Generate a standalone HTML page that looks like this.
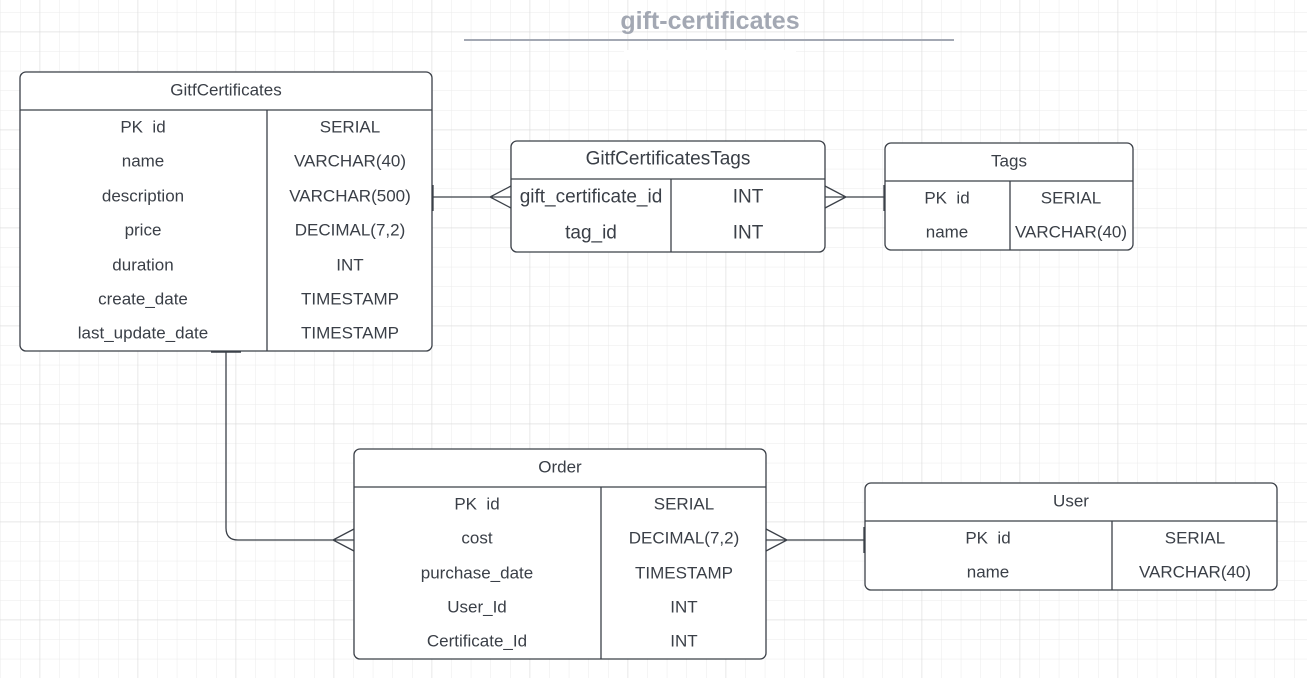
<!DOCTYPE html>
<html><head><meta charset="utf-8"><style>
html,body{margin:0;padding:0;width:1307px;height:678px;overflow:hidden;background:#fff}
svg{display:block}
text{font-family:"Liberation Sans",sans-serif;fill:#3a3f47;font-size:17px;text-anchor:middle;dominant-baseline:central}
</style></head><body>
<svg width="1307" height="678" xmlns="http://www.w3.org/2000/svg">
<defs>
<pattern id="g" x="0.4" y="12" width="19.6" height="19.6" patternUnits="userSpaceOnUse">
<path d="M0 0H19.6M0 0V19.6" stroke="#ebebeb" stroke-width="1" fill="none"/>
</pattern>
<pattern id="G" x="39.6" y="31.6" width="98" height="98" patternUnits="userSpaceOnUse">
<path d="M0 0H98M0 0V98" stroke="#dcdcdc" stroke-width="1.2" fill="none"/>
</pattern>
</defs>
<rect width="1307" height="678" fill="url(#g)"/>
<rect width="1307" height="678" fill="url(#G)"/>
<rect x="624" y="50" width="172" height="10" fill="#fff"/>
<text x="710" y="21" style="font-size:25px;font-weight:bold;fill:#a3a8b3">gift-certificates</text>
<line x1="464" y1="40" x2="954" y2="40" stroke="#a3a8b3" stroke-width="2"/>

<g stroke="#3b4048" stroke-width="1.3" fill="none">
<path d="M432 197H511M511 186L490 197L511 208M433 185V211"/>
<path d="M825 197H885M825 186L846 197L825 208M884 185V211"/>
<path d="M226 351V528Q226 540 238 540H354M354 529L333 540L354 551"/>
<path d="M211 351.5H241" stroke-width="2.5"/>
<path d="M766 540H865M766 529L787 540L766 551M864 527V553"/>
</g>

<g stroke="#3b4048" stroke-width="1.3" fill="#fff">
<rect x="20" y="72" width="412" height="279" rx="6"/>
<rect x="511" y="141" width="314" height="111" rx="6"/>
<rect x="885" y="143" width="248" height="107" rx="6"/>
<rect x="354" y="449" width="412" height="210" rx="6"/>
<rect x="865" y="483" width="412" height="107" rx="6"/>
</g>
<g stroke="#3b4048" stroke-width="1.3">
<line x1="20" y1="110" x2="432" y2="110"/><line x1="267" y1="110" x2="267" y2="351"/>
<line x1="511" y1="179" x2="825" y2="179"/><line x1="671" y1="179" x2="671" y2="252"/>
<line x1="885" y1="181" x2="1133" y2="181"/><line x1="1010" y1="181" x2="1010" y2="250"/>
<line x1="354" y1="487" x2="766" y2="487"/><line x1="601" y1="487" x2="601" y2="659"/>
<line x1="865" y1="521" x2="1277" y2="521"/><line x1="1112" y1="521" x2="1112" y2="590"/>
</g>

<text x="226" y="90">GitfCertificates</text>
<text x="143" y="127">PK &#160;id</text><text x="350" y="127">SERIAL</text>
<text x="143" y="161">name</text><text x="350" y="161">VARCHAR(40)</text>
<text x="143" y="196">description</text><text x="350" y="196">VARCHAR(500)</text>
<text x="143" y="230">price</text><text x="350" y="230">DECIMAL(7,2)</text>
<text x="143" y="265">duration</text><text x="350" y="265">INT</text>
<text x="143" y="299">create_date</text><text x="350" y="299">TIMESTAMP</text>
<text x="143" y="333">last_update_date</text><text x="350" y="333">TIMESTAMP</text>

<text x="668" y="159" style="font-size:19px">GitfCertificatesTags</text>
<text x="591" y="197" style="font-size:19px">gift_certificate_id</text><text x="748" y="197" style="font-size:19px">INT</text>
<text x="591" y="233" style="font-size:19px">tag_id</text><text x="748" y="233" style="font-size:19px">INT</text>

<text x="1009" y="161">Tags</text>
<text x="947" y="198">PK &#160;id</text><text x="1071" y="198">SERIAL</text>
<text x="947" y="232">name</text><text x="1071" y="232">VARCHAR(40)</text>

<text x="560" y="467">Order</text>
<text x="477" y="504">PK &#160;id</text><text x="684" y="504">SERIAL</text>
<text x="477" y="538">cost</text><text x="684" y="538">DECIMAL(7,2)</text>
<text x="477" y="573">purchase_date</text><text x="684" y="573">TIMESTAMP</text>
<text x="477" y="607">User_Id</text><text x="684" y="607">INT</text>
<text x="477" y="641">Certificate_Id</text><text x="684" y="641">INT</text>

<text x="1071" y="501">User</text>
<text x="988" y="538">PK &#160;id</text><text x="1195" y="538">SERIAL</text>
<text x="988" y="572">name</text><text x="1195" y="572">VARCHAR(40)</text>
</svg>
</body></html>
